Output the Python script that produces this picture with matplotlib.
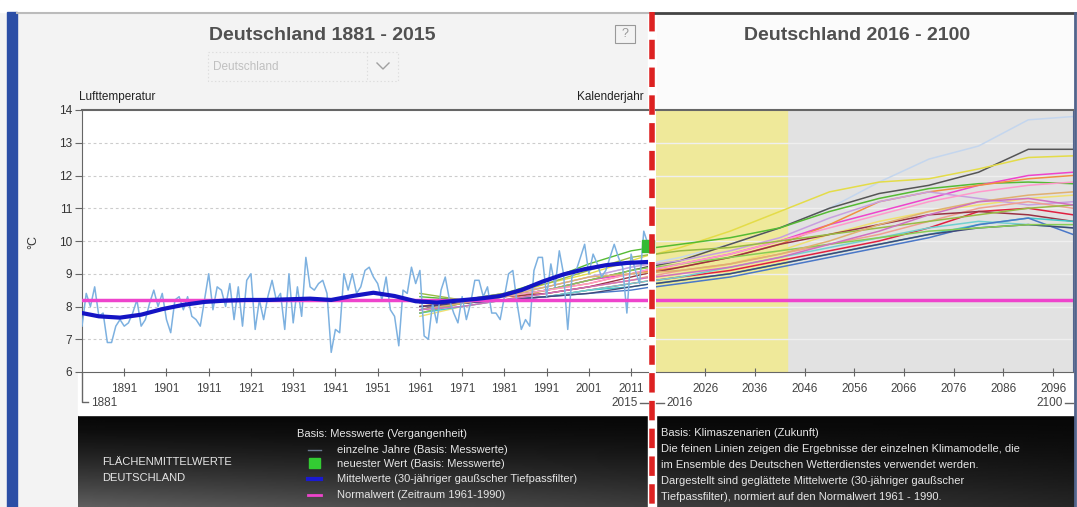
import matplotlib
matplotlib.use('agg')
import matplotlib.pyplot as plt
from matplotlib.patches import Rectangle
import numpy as np

plt.rcParams['font.family'] = ['Liberation Sans', 'DejaVu Sans']
plt.rcParams['lines.scale_dashes'] = False

W, H = 1077, 507

# annual mean air temperature Germany
obs_years = list(range(1881, 2016))
obs_temp = [
    7.4, 8.4, 8.0, 8.6, 7.7, 7.8, 6.9, 6.9, 7.4, 7.6,
    7.4, 7.5, 7.8, 8.2, 7.4, 7.6, 8.1, 8.5, 8.0, 8.4,
    7.6, 7.2, 8.2, 8.3, 7.9, 8.3, 7.7, 7.6, 7.4, 8.2,
    9.0, 7.9, 8.6, 8.5, 8.0, 8.7, 7.6, 8.6, 7.4, 8.8,
    9.0, 7.3, 8.2, 7.6, 8.3, 8.8, 8.2, 8.4, 7.3, 9.0,
    7.5, 8.6, 7.7, 9.5, 8.6, 8.5, 8.7, 8.8, 8.4, 6.6,
    7.3, 7.2, 9.0, 8.5, 9.0, 8.4, 8.6, 9.1, 9.2, 8.9,
    8.7, 8.2, 8.9, 7.9, 7.7, 6.8, 8.5, 8.4, 9.2, 8.7,
    9.1, 7.1, 7.0, 8.1, 7.5, 8.5, 8.9, 8.2, 7.8, 7.5,
    8.3, 7.6, 8.1, 8.8, 8.8, 8.3, 8.6, 7.8, 7.8, 7.6,
    8.3, 9.0, 9.1, 8.1, 7.3, 7.6, 7.4, 9.1, 9.5, 9.5,
    8.3, 9.3, 8.6, 9.7, 9.0, 7.3, 8.9, 9.1, 9.5, 9.9,
    9.0, 9.6, 9.3, 8.9, 9.1, 9.5, 9.9, 9.5, 9.2, 7.8,
    9.6, 9.1, 8.7, 10.3, 9.9,
]

# 30-year gaussian low pass
smooth_years = [1881, 1885, 1890, 1895, 1900, 1905, 1910, 1915, 1920, 1925,
                1930, 1935, 1940, 1945, 1950, 1955, 1960, 1965, 1970, 1975,
                1980, 1985, 1990, 1995, 2000, 2005, 2010, 2015]
smooth_temp = [7.80, 7.70, 7.66, 7.75, 7.92, 8.05, 8.14, 8.18, 8.20, 8.20,
               8.22, 8.24, 8.20, 8.32, 8.42, 8.32, 8.16, 8.12, 8.18, 8.24,
               8.32, 8.50, 8.76, 8.98, 9.14, 9.26, 9.33, 9.36]

normal_value = 8.2
latest_year = 2015
latest_value = 9.85

# climate model ensemble (smoothed, normalised)
model_years = [1961, 1971, 1981, 1991, 2001, 2011, 2021, 2031, 2041, 2051, 2061, 2071, 2081, 2091, 2100]
model_lightblue = [8.0, 8.1, 8.3, 8.6, 8.9, 9.2, 9.5, 9.9, 10.4, 11.0, 11.8, 12.5, 12.9, 13.7, 13.8]
model_grey = [7.9, 8.2, 8.3, 8.5, 8.8, 9.1, 9.4, 9.9, 10.4, 11.0, 11.45, 11.7, 12.1, 12.8, 12.8]
model_yellow = [8.2, 8.1, 8.3, 8.7, 9.0, 9.4, 9.8, 10.3, 10.9, 11.5, 11.8, 11.9, 12.2, 12.55, 12.6]
model_green = [8.3, 8.2, 8.4, 8.8, 9.3, 9.7, 9.9, 10.1, 10.4, 10.9, 11.3, 11.6, 11.75, 11.8, 11.75]
model_magenta = [7.8, 8.1, 8.3, 8.5, 8.8, 9.0, 9.3, 9.6, 10.0, 10.5, 10.9, 11.3, 11.7, 12.0, 12.1]
model_orange = [8.0, 8.2, 8.2, 8.5, 8.7, 9.0, 9.2, 9.5, 9.9, 10.5, 11.2, 11.5, 11.7, 11.9, 12.0]
model_yellow2 = [7.7, 8.0, 8.2, 8.4, 8.6, 8.8, 9.0, 9.3, 9.7, 10.2, 10.6, 10.9, 11.1, 11.3, 11.4]
model_lavender = [8.1, 8.2, 8.4, 8.6, 8.9, 9.2, 9.4, 9.7, 10.1, 10.7, 11.2, 11.5, 11.3, 11.1, 11.2]
model_salmon = [7.9, 8.1, 8.2, 8.4, 8.6, 8.8, 9.1, 9.3, 9.6, 9.9, 10.2, 10.6, 11.0, 11.2, 11.0]
model_red = [8.0, 8.1, 8.2, 8.3, 8.5, 8.7, 8.9, 9.1, 9.4, 9.7, 10.0, 10.4, 10.9, 11.0, 10.8]
model_darkred = [8.2, 8.2, 8.3, 8.4, 8.6, 8.9, 9.2, 9.5, 9.9, 10.2, 10.5, 10.8, 10.9, 10.8, 10.6]
model_cyan = [7.8, 8.0, 8.2, 8.3, 8.5, 8.6, 8.8, 9.0, 9.3, 9.6, 9.9, 10.2, 10.5, 10.7, 10.6]
model_teal = [8.1, 8.2, 8.2, 8.3, 8.5, 8.7, 8.9, 9.2, 9.5, 9.8, 10.1, 10.4, 10.6, 10.5, 10.4]
model_blue = [7.9, 8.1, 8.2, 8.3, 8.4, 8.5, 8.7, 8.9, 9.2, 9.5, 9.8, 10.1, 10.5, 10.7, 10.2]
model_navy = [8.0, 8.1, 8.2, 8.3, 8.4, 8.6, 8.8, 9.0, 9.3, 9.6, 9.9, 10.2, 10.4, 10.5, 10.4]
model_lightgreen = [7.8, 8.1, 8.3, 8.5, 8.8, 9.1, 9.3, 9.5, 9.7, 9.9, 10.1, 10.3, 10.4, 10.5, 10.5]
model_pink = [8.1, 8.2, 8.3, 8.5, 8.7, 9.0, 9.3, 9.6, 10.0, 10.4, 10.8, 11.2, 11.5, 11.7, 11.8]
model_olive = [8.4, 8.2, 8.4, 8.7, 9.1, 9.5, 9.7, 9.8, 10.0, 10.2, 10.4, 10.6, 10.8, 11.0, 11.1]
model_tan = [7.9, 8.1, 8.3, 8.6, 8.9, 9.0, 9.1, 9.3, 9.6, 10.0, 10.5, 10.9, 11.2, 11.4, 11.5]
model_purple = [7.9, 8.0, 8.2, 8.4, 8.6, 8.8, 9.0, 9.2, 9.5, 9.9, 10.3, 10.8, 11.2, 11.3, 11.1]

models = [
    (model_lightblue, '#c4d6ee'), (model_grey, '#555555'), (model_yellow, '#e4dc48'),
    (model_green, '#55bb33'), (model_magenta, '#ee44cc'), (model_orange, '#f09040'),
    (model_yellow2, '#f0e070'), (model_lavender, '#c8a0e0'), (model_salmon, '#f0a090'),
    (model_red, '#e02040'), (model_darkred, '#993344'), (model_cyan, '#40c8c8'),
    (model_teal, '#70d0d0'), (model_blue, '#4a78c8'), (model_navy, '#404878'),
    (model_lightgreen, '#88cc55'), (model_pink, '#ff99cc'), (model_olive, '#99bb44'),
    (model_tan, '#e0b070'), (model_purple, '#d070c0'),
]

past_ticks = [1891, 1901, 1911, 1921, 1931, 1941, 1951, 1961, 1971, 1981, 1991, 2001, 2011]
future_ticks = [2026, 2036, 2046, 2056, 2066, 2076, 2086, 2096]
y_ticks = [6, 7, 8, 9, 10, 11, 12, 13, 14]
near_future = (2016, 2042.5)


def px_rect(x0, y0, x1, y1):
    return [x0 / W, 1 - y1 / H, (x1 - x0) / W, (y1 - y0) / H]


fig = plt.figure(figsize=(W / 100, H / 100), dpi=100)
fig.patch.set_facecolor('#f3f3f3')

# background layer in pixel coordinates
bg = fig.add_axes([0, 0, 1, 1], zorder=0)
bg.axis('off')
bg.add_patch(Rectangle((0, 0), W, 12, color='white'))
bg.add_patch(Rectangle((652, 14), 423, 96, color='#fbfbfb'))
bg.add_patch(Rectangle((78, 372), 997, 43, color='white'))
ty = np.linspace(0, 1, 60)[:, None]
tx = np.linspace(0, 1, 200)[None, :]
grad = 0.03 + 0.34 * ty ** 1.4 * (1 - 0.65 * tx)
bg.imshow(grad, extent=[78, 1075, 507, 415], aspect='auto', cmap='gray', vmin=0, vmax=1)
bg.add_patch(Rectangle((7, 12), 10, 495, color='#2b4ea6'))
bg.plot([17, 652], [13, 13], color='#bbbbbb', lw=1.5)
bg.plot([652, 1075], [13, 13], color='#444444', lw=2)
bg.plot([1075, 1075], [13, 507], color='#52648c', lw=2)
bg.add_patch(Rectangle((648, 12), 8, 495, color='white'))

# dropdown and help box
bg.add_patch(Rectangle((208, 52), 190, 29, fill=False, ec='#dddddd', lw=0.8, ls=':'))
bg.plot([367, 367], [52, 81], color='#dddddd', lw=0.8, ls=':')
bg.plot([377, 383, 389], [63, 69, 63], color='#a0a0a0', lw=1)
bg.text(213, 67, 'Deutschland', fontsize=8.5, color='#c0c0c0', va='center')
bg.add_patch(Rectangle((615, 25), 20, 18, fill=False, ec='#999999', lw=0.8))
bg.text(625, 34, '?', fontsize=9, color='#999999', ha='center', va='center')

bg.text(322, 36, 'Deutschland 1881 - 2015', fontsize=14, fontweight='bold',
        color='#505050', ha='center', va='center')
bg.text(857, 36, 'Deutschland 2016 - 2100', fontsize=14, fontweight='bold',
        color='#505050', ha='center', va='center')
bg.text(79, 97, 'Lufttemperatur', fontsize=8.5, color='#222222', va='center')
bg.text(644, 97, 'Kalenderjahr', fontsize=8.5, color='#222222', va='center', ha='right')
bg.text(33, 242, '°C', fontsize=9, color='#333333', rotation=90, ha='center', va='center')

# range brackets under the axes
bg.plot([82, 82, 88], [372, 402, 402], color='#666666', lw=1)
bg.text(91, 403, '1881', fontsize=8.5, color='#444444', va='center')
bg.plot([640, 648], [403, 403], color='#666666', lw=1)
bg.text(638, 403, '2015', fontsize=8.5, color='#444444', va='center', ha='right')
bg.plot([656, 664], [403, 403], color='#666666', lw=1)
bg.text(666, 403, '2016', fontsize=8.5, color='#444444', va='center')
bg.plot([1065, 1073], [403, 403], color='#666666', lw=1)
bg.text(1063, 403, '2100', fontsize=8.5, color='#444444', va='center', ha='right')

# legend (past)
fg = '#e6e6e6'
bg.text(102, 462, 'FLÄCHENMITTELWERTE', fontsize=8, color=fg, va='center')
bg.text(102, 478, 'DEUTSCHLAND', fontsize=8, color=fg, va='center')
bg.text(297, 434, 'Basis: Messwerte (Vergangenheit)', fontsize=8, color=fg, va='center')
bg.plot([308, 321], [450, 450], color='#6a7890', lw=1)
bg.add_patch(Rectangle((309, 458), 11, 10, color='#33cc33'))
bg.plot([308, 321], [479, 479], color='#1a1ad0', lw=3)
bg.plot([308, 321], [495, 495], color='#ee44cc', lw=2)
legend_texts = ['einzelne Jahre (Basis: Messwerte)',
                'neuester Wert (Basis: Messwerte)',
                'Mittelwerte (30-jähriger gaußscher Tiefpassfilter)',
                'Normalwert (Zeitraum 1961-1990)']
for yy, t in zip([450, 464, 479, 495], legend_texts):
    bg.text(337, yy, t, fontsize=8, color=fg, va='center')

# legend (future)
future_texts = ['Basis: Klimaszenarien (Zukunft)',
                'Die feinen Linien zeigen die Ergebnisse der einzelnen Klimamodelle, die',
                'im Ensemble des Deutschen Wetterdienstes verwendet werden.',
                'Dargestellt sind geglättete Mittelwerte (30-jähriger gaußscher',
                'Tiefpassfilter), normiert auf den Normalwert 1961 - 1990.']
for yy, t in zip([433, 449, 465, 481, 497], future_texts):
    bg.text(661, yy, t, fontsize=8, color=fg, va='center')

bg.set_xlim(0, W)
bg.set_ylim(H, 0)

# left panel: measurements
ax = fig.add_axes(px_rect(82, 110, 648, 372), zorder=2)
ax.set_facecolor('white')
for v in y_ticks[1:-1]:
    ax.axhline(v, color='#cccccc', lw=0.8, ls=(0, (2, 2)), zorder=1)
for vals, c in models:
    ax.plot(model_years, vals, color=c, lw=1.0, zorder=2)
ax.plot(obs_years, obs_temp, color='#7db1e0', lw=1.1, zorder=3)
ax.axhline(normal_value, color='#ee44cc', lw=2.5, zorder=4)
ax.plot(smooth_years, smooth_temp, color='#1414c4', lw=3, zorder=5, solid_capstyle='round')
ax.plot([latest_year], [latest_value], marker='s', ms=9, color='#33bb33', clip_on=False, zorder=6)
ax.set_xlim(1881, 2015)
ax.set_ylim(6, 14)
ax.set_xticks(past_ticks)
ax.set_yticks(y_ticks)
ax.tick_params(axis='x', direction='inout', length=6, color='#666666', labelsize=8.5,
               labelcolor='#444444', pad=5)
ax.tick_params(axis='y', direction='out', length=5, color='#666666', labelsize=8.5,
               labelcolor='#333333', pad=2)
ax.spines['right'].set_visible(False)
ax.spines['top'].set_color('#666666')
ax.spines['top'].set_linewidth(1.5)
ax.spines['left'].set_color('#666666')
ax.spines['bottom'].set_color('#666666')

# right panel: scenarios
ax2 = fig.add_axes(px_rect(655.5, 110, 1073, 372), zorder=2)
ax2.set_facecolor('#e2e2e2')
ax2.axvspan(near_future[0], near_future[1], color='#efe99a', zorder=0)
for v in y_ticks[1:-1]:
    ax2.axhline(v, color='#efefef', lw=1, zorder=1)
for vals, c in models:
    ax2.plot(model_years, vals, color=c, lw=1.1, zorder=2)
ax2.axhline(normal_value, color='#ee44cc', lw=2.5, zorder=4)
ax2.set_xlim(2016, 2100)
ax2.set_ylim(6, 14)
ax2.set_xticks(future_ticks)
ax2.set_yticks([])
ax2.tick_params(axis='x', direction='inout', length=6, color='#666666', labelsize=8.5,
                labelcolor='#444444', pad=5)
ax2.spines['left'].set_visible(False)
ax2.spines['top'].set_color('#666666')
ax2.spines['top'].set_linewidth(1.5)
ax2.spines['right'].set_color('#52648c')
ax2.spines['bottom'].set_color('#666666')

# red dashed divider on top
ov = fig.add_axes([0, 0, 1, 1], zorder=10)
ov.axis('off')
ov.patch.set_alpha(0)
ov.plot([652, 652], [12, 507], color='#dd2222', lw=4, dashes=(14, 6))
ov.set_xlim(0, W)
ov.set_ylim(H, 0)

fig.savefig('out.png', dpi=100, facecolor=fig.get_facecolor())
